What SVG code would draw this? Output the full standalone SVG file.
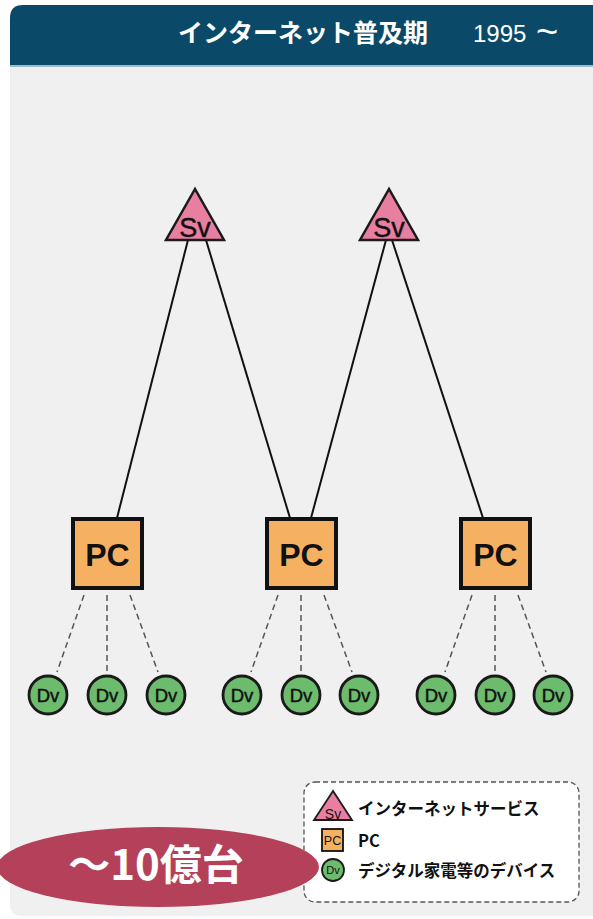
<svg xmlns="http://www.w3.org/2000/svg" width="593" height="919" viewBox="0 0 593 919">
  <defs>
    <style>
      .title { font-family: "Noto Sans CJK JP", "Liberation Sans", sans-serif; font-weight: bold; fill: #ffffff; }
      .year { font-family: "Liberation Sans", Arial, sans-serif; fill: #ffffff; }
      .sv { fill: #e87ea0; stroke: #1a1a1a; stroke-width: 2.5; stroke-linejoin: miter; }
      .pc { fill: #f6b062; stroke: #111111; stroke-width: 4; }
      .dv { fill: #6dbb6d; stroke: #1a1a1a; stroke-width: 2.8; }
      .lbl { font-family: "Liberation Sans", Arial, sans-serif; font-weight: bold; fill: #111111; text-anchor: middle; }
      .thin { font-weight: normal; stroke: #111111; stroke-width: 0.45; }
      .link { stroke: #111111; stroke-width: 2; fill: none; }
      .dash { stroke: #555555; stroke-width: 1.5; stroke-dasharray: 6 4; fill: none; }
      .legend-text { font-family: "Noto Sans CJK JP", "Liberation Sans", sans-serif; font-weight: bold; fill: #111111; font-size: 16.5px; }
    </style>
  </defs>

  <!-- page background -->
  <rect x="0" y="0" width="593" height="919" fill="#ffffff"/>

  <!-- content panel -->
  <path d="M10 66 H593 V916 H22 Q10 916 10 904 Z" fill="#f0f0f0"/>

  <!-- header bar -->
  <g id="header">
    <path d="M10 66 V18 Q10 5 23 5 H593 V66 Z" fill="#0a4a68"/>
    <rect x="10" y="65" width="583" height="2" fill="#9fbccd"/>
    <text class="title" x="178" y="42" font-size="25">インターネット普及期</text>
    <text class="year" x="473" y="42" font-size="24">1995<tspan x="536" font-size="38" y="45">~</tspan></text>
  </g>

  <!-- connectors -->
  <g id="connectors">
    <line class="link" x1="188" y1="240" x2="117" y2="518"/>
    <line class="link" x1="206" y1="240" x2="290" y2="518"/>
    <line class="link" x1="386" y1="240" x2="311" y2="518"/>
    <line class="link" x1="392" y1="240" x2="483" y2="518"/>

    <line class="dash" x1="84" y1="595" x2="57" y2="672"/>
    <line class="dash" x1="107" y1="595" x2="107" y2="672"/>
    <line class="dash" x1="130" y1="595" x2="158" y2="672"/>

    <line class="dash" x1="278" y1="595" x2="251" y2="672"/>
    <line class="dash" x1="301" y1="595" x2="301" y2="672"/>
    <line class="dash" x1="324" y1="595" x2="352" y2="672"/>

    <line class="dash" x1="472" y1="595" x2="445" y2="672"/>
    <line class="dash" x1="495" y1="595" x2="495" y2="672"/>
    <line class="dash" x1="518" y1="595" x2="546" y2="672"/>
  </g>

  <!-- servers -->
  <g id="sv1">
    <polygon class="sv" points="195,189 166,240 224,240"/>
    <text class="lbl thin" x="195" y="237" font-size="27">Sv</text>
  </g>
  <g id="sv2">
    <polygon class="sv" points="389,189 360,240 418,240"/>
    <text class="lbl thin" x="389" y="237" font-size="27">Sv</text>
  </g>

  <!-- PCs -->
  <g id="pc1">
    <rect class="pc" x="73" y="519" width="69" height="69"/>
    <text class="lbl" x="107.5" y="566" font-size="32">PC</text>
  </g>
  <g id="pc2">
    <rect class="pc" x="267" y="519" width="69" height="69"/>
    <text class="lbl" x="301.5" y="566" font-size="32">PC</text>
  </g>
  <g id="pc3">
    <rect class="pc" x="461" y="519" width="69" height="69"/>
    <text class="lbl" x="495.5" y="566" font-size="32">PC</text>
  </g>

  <!-- devices -->
  <g id="dv1"><circle class="dv" cx="48" cy="695" r="19"/><text class="lbl thin" x="48" y="702" font-size="18.5">Dv</text></g>
  <g id="dv2"><circle class="dv" cx="107" cy="695" r="19"/><text class="lbl thin" x="107" y="702" font-size="18.5">Dv</text></g>
  <g id="dv3"><circle class="dv" cx="166" cy="695" r="19"/><text class="lbl thin" x="166" y="702" font-size="18.5">Dv</text></g>
  <g id="dv4"><circle class="dv" cx="242" cy="695" r="19"/><text class="lbl thin" x="242" y="702" font-size="18.5">Dv</text></g>
  <g id="dv5"><circle class="dv" cx="301" cy="695" r="19"/><text class="lbl thin" x="301" y="702" font-size="18.5">Dv</text></g>
  <g id="dv6"><circle class="dv" cx="359" cy="695" r="19"/><text class="lbl thin" x="359" y="702" font-size="18.5">Dv</text></g>
  <g id="dv7"><circle class="dv" cx="436" cy="695" r="19"/><text class="lbl thin" x="436" y="702" font-size="18.5">Dv</text></g>
  <g id="dv8"><circle class="dv" cx="495" cy="695" r="19"/><text class="lbl thin" x="495" y="702" font-size="18.5">Dv</text></g>
  <g id="dv9"><circle class="dv" cx="553" cy="695" r="19"/><text class="lbl thin" x="553" y="702" font-size="18.5">Dv</text></g>

  <!-- legend -->
  <g id="legend">
    <rect x="304" y="782" width="275" height="120" rx="11" ry="11" fill="#ffffff" stroke="#555555" stroke-width="1.3" stroke-dasharray="5 3"/>
    <polygon class="sv" points="333,791 314,820 352,820" style="stroke-width:1.8"/>
    <text class="lbl" x="333" y="819" font-size="14" style="font-weight:normal">Sv</text>
    <text class="legend-text" x="358" y="815">インターネットサービス</text>

    <rect class="pc" x="322" y="829" width="21" height="22" style="stroke-width:1.8"/>
    <text class="lbl" x="332.5" y="845" font-size="12.5" style="font-weight:normal">PC</text>
    <text class="legend-text" x="358" y="847">PC</text>

    <circle class="dv" cx="333" cy="870" r="11" style="stroke-width:1.8"/>
    <text class="lbl" x="333" y="874" font-size="11" style="font-weight:normal">Dv</text>
    <text class="legend-text" x="358" y="877">デジタル家電等のデバイス</text>
  </g>

  <!-- total count badge -->
  <g id="count">
    <ellipse cx="158" cy="867" rx="161" ry="40" fill="#b4405a"/>
    <text x="156" y="880" font-family="Noto Sans CJK JP, Liberation Sans, sans-serif" font-weight="bold" font-size="42" fill="#ffffff" text-anchor="middle">～10億台</text>
  </g>
</svg>
